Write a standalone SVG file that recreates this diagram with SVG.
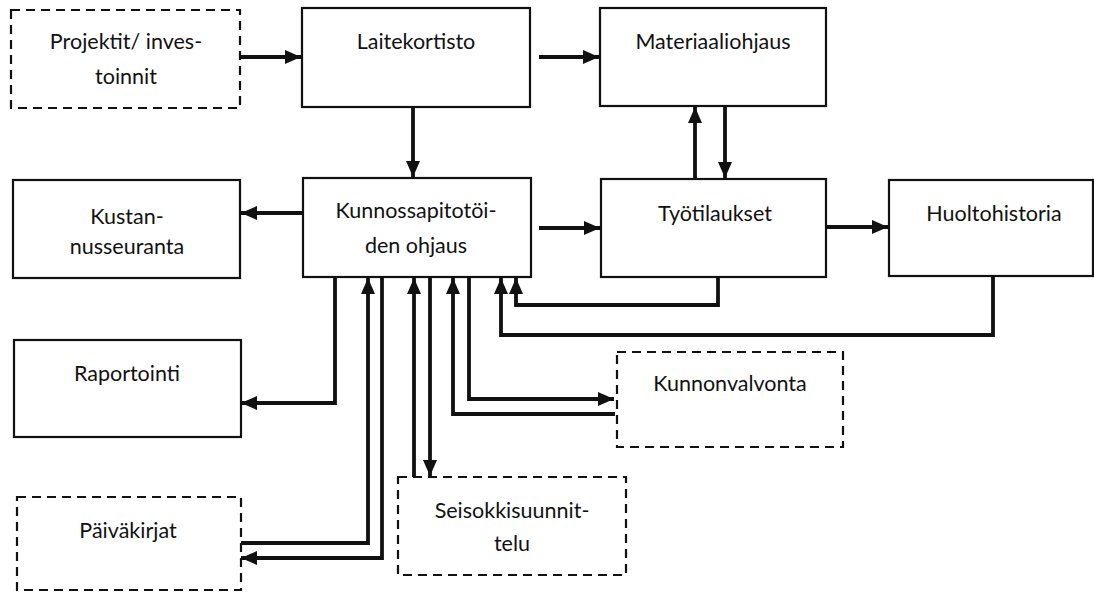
<svg xmlns="http://www.w3.org/2000/svg" width="1094" height="592" viewBox="0 0 1094 592">
<style>
.box{fill:#fff;stroke:#111;stroke-width:2.2}
.dash{fill:#fff;stroke:#111;stroke-width:2.2;stroke-dasharray:9 6}
.t{font-family:Lato,"Open Sans","Noto Sans",sans-serif;font-size:21.5px;fill:#111;text-anchor:middle}
.c{fill:none;stroke:#111;stroke-width:3.8;stroke-linejoin:miter}
</style>
<defs>
<marker id="ah" viewBox="0 0 16 14" refX="16" refY="7" markerWidth="16" markerHeight="14" markerUnits="userSpaceOnUse" orient="auto">
<path d="M0,0 L16,7 L0,14 Z" fill="#111"/>
</marker>
</defs>
<rect width="1094" height="592" fill="#fff"/>
<g id="connectors">
<path class="c" d="M240,57 H301" marker-end="url(#ah)"/>
<path class="c" d="M539,57 H599" marker-end="url(#ah)"/>
<path class="c" d="M413,107 V177" marker-end="url(#ah)"/>
<path class="c" d="M695,179 V107" marker-end="url(#ah)"/>
<path class="c" d="M725,107 V178" marker-end="url(#ah)"/>
<path class="c" d="M302,213 H241" marker-end="url(#ah)"/>
<path class="c" d="M539,228 H600" marker-end="url(#ah)"/>
<path class="c" d="M826,227 H888" marker-end="url(#ah)"/>
<path class="c" d="M718,277 V305 H516 V278" marker-end="url(#ah)"/>
<path class="c" d="M993,277 V335 H501 V278" marker-end="url(#ah)"/>
<path class="c" d="M335,277 V403 H241" marker-end="url(#ah)"/>
<path class="c" d="M241,543 H368 V278" marker-end="url(#ah)"/>
<path class="c" d="M382,277 V558 H241" marker-end="url(#ah)"/>
<path class="c" d="M414,477 V278" marker-end="url(#ah)"/>
<path class="c" d="M430,277 V476" marker-end="url(#ah)"/>
<path class="c" d="M469,277 V399 H614" marker-end="url(#ah)"/>
<path class="c" d="M615,414 H453 V278" marker-end="url(#ah)"/>
</g>
<g id="projektit">
<rect class="dash" x="11" y="10" width="229" height="98"/>
<text class="t" x="126" y="49">Projektit/ inves-</text>
<text class="t" x="126" y="84">toinnit</text>
</g>
<g id="laitekortisto">
<rect class="box" x="302" y="8" width="228" height="99"/>
<text class="t" x="416" y="49">Laitekortisto</text>
</g>
<g id="materiaaliohjaus">
<rect class="box" x="600" y="8" width="226" height="98"/>
<text class="t" x="713" y="49">Materiaaliohjaus</text>
</g>
<g id="kustannusseuranta">
<rect class="box" x="13" y="180" width="227" height="98"/>
<text class="t" x="127" y="224">Kustan-</text>
<text class="t" x="127" y="254">nusseuranta</text>
</g>
<g id="kunnossapito">
<rect class="box" x="303" y="178" width="228" height="99"/>
<text class="t" x="416" y="218">Kunnossapitotöi-</text>
<text class="t" x="416" y="253">den ohjaus</text>
</g>
<g id="tyotilaukset">
<rect class="box" x="601" y="179" width="225" height="98"/>
<text class="t" x="715" y="221">Työtilaukset</text>
</g>
<g id="huoltohistoria">
<rect class="box" x="889" y="180" width="204" height="96"/>
<text class="t" x="994" y="221">Huoltohistoria</text>
</g>
<g id="raportointi">
<rect class="box" x="14" y="340" width="227" height="97"/>
<text class="t" x="127" y="381">Raportointi</text>
</g>
<g id="kunnonvalvonta">
<rect class="dash" x="617" y="352" width="226" height="95"/>
<text class="t" x="730" y="391">Kunnonvalvonta</text>
</g>
<g id="seisokkisuunnittelu">
<rect class="dash" x="398" y="477" width="228" height="98"/>
<text class="t" x="512" y="518">Seisokkisuunnit-</text>
<text class="t" x="512" y="551">telu</text>
</g>
<g id="paivakirjat">
<rect class="dash" x="17" y="497" width="224" height="93"/>
<text class="t" x="128" y="538">Päiväkirjat</text>
</g>
</svg>
